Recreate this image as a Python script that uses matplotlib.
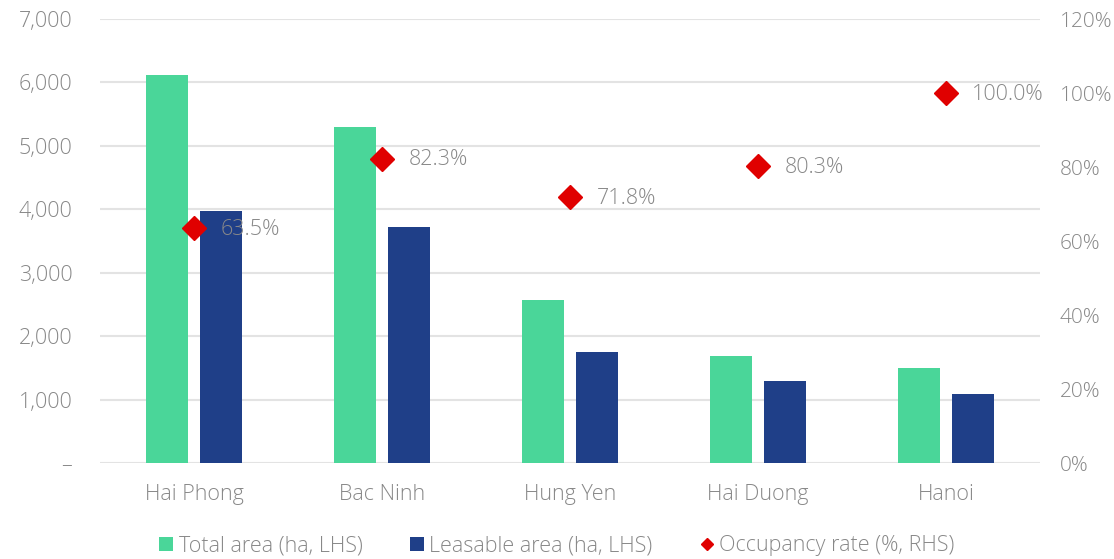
import matplotlib
matplotlib.use('Agg')
import matplotlib.pyplot as plt
import numpy as np
from matplotlib.lines import Line2D
from matplotlib.ticker import FuncFormatter

plt.rcParams['font.family'] = ['Open Sans', 'DejaVu Sans']
plt.rcParams['font.weight'] = 'light'

provinces = ['Hai Phong', 'Bac Ninh', 'Hung Yen', 'Hai Duong', 'Hanoi']
total_area = [6120, 5300, 2570, 1690, 1500]
leasable_area = [3970, 3720, 1750, 1290, 1090]
occupancy = [63.5, 82.3, 71.8, 80.3, 100.0]

green = '#4ad699'
navy = '#1f3f88'
red = '#e00000'
grey = '#888888'
fs = 15.5

fig = plt.figure(figsize=(11.14, 5.59), dpi=100)
ax = fig.add_axes([0.0898, 0.1717, 0.8438, 0.7943])
ax2 = ax.twinx()

x = np.arange(len(provinces))
w = 0.223
off = 0.144
b1 = ax.bar(x - off, total_area, w, color=green, zorder=2, label='Total area (ha, LHS)')
b2 = ax.bar(x + off, leasable_area, w, color=navy, zorder=2, label='Leasable area (ha, LHS)')

ax2.plot(x, occupancy, 'D', color=red, markersize=12, zorder=3)
for xi, v in zip(x, occupancy):
    ax2.annotate(f'{v:.1f}%', (xi, v), xytext=(19, -1), textcoords='offset points',
                 va='center', ha='left', fontsize=fs, color=grey)

ax.set_xlim(-0.5, len(provinces) - 0.5)
ax.set_ylim(0, 7000)
ax.set_yticks(range(0, 7001, 1000))
ax.yaxis.set_major_formatter(FuncFormatter(lambda v, p: '–' if v == 0 else f'{int(v):,}'))
ax2.set_ylim(0, 120)
ax2.set_yticks(range(0, 121, 20))
ax2.yaxis.set_major_formatter(FuncFormatter(lambda v, p: f'{int(v)}%'))

ax.set_xticks(x)
ax.set_xticklabels(provinces)
ax.grid(axis='y', color='#e3e3e3', linewidth=1.5, zorder=0)
ax.set_axisbelow(True)
for a in (ax, ax2):
    for s in a.spines.values():
        s.set_visible(False)
    a.tick_params(length=0, labelsize=fs, labelcolor=grey)
ax.tick_params(axis='y', pad=20)
ax.tick_params(axis='x', pad=15)
ax2.tick_params(axis='y', pad=14, labelsize=15)
ax.set_zorder(ax2.get_zorder() - 1)
ax.patch.set_visible(False)

occ_handle = Line2D([], [], marker='D', color=red, linestyle='none', markersize=6,
                    label='Occupancy rate (%, RHS)')
fig.legend(handles=[b1, b2, occ_handle], loc='lower center', bbox_to_anchor=(0.5, -0.03),
           ncol=3, frameon=False, fontsize=fs, labelcolor=grey, handlelength=0.65,
           handleheight=0.65, handletextpad=0.25, columnspacing=2.2)

fig.savefig('out.png', dpi=100)
